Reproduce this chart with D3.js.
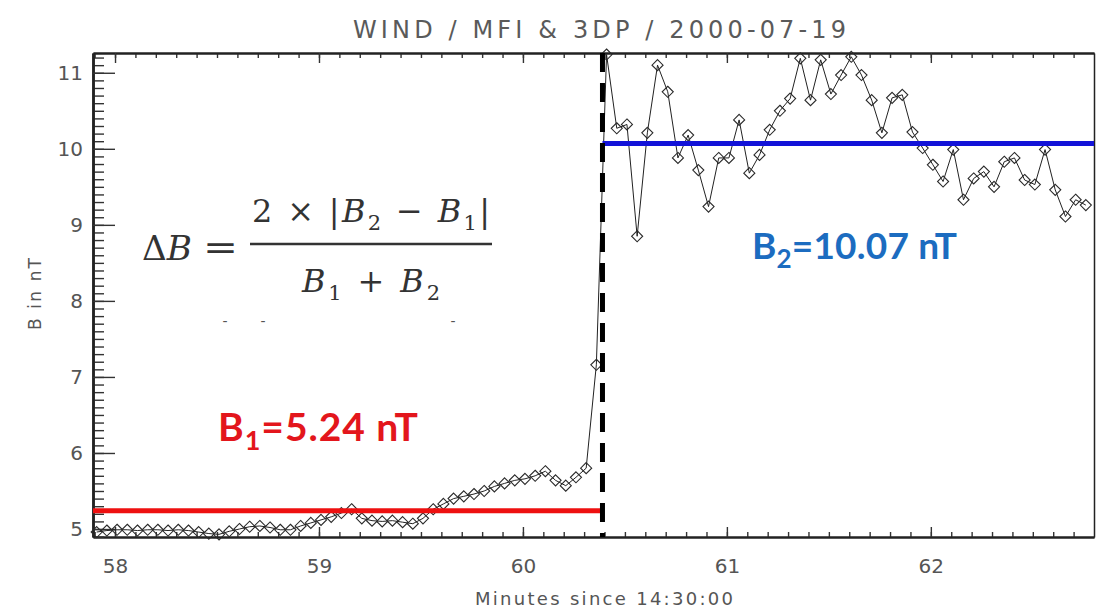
<!DOCTYPE html>
<html>
<head>
<meta charset="utf-8">
<script src="https://cdn.jsdelivr.net/npm/d3@7"></script>
<style>
  html, body { margin: 0; padding: 0; background: #fff; }
  svg { display: block; }
  .axis text { font-family: "DejaVu Sans", sans-serif; fill: #555; }
</style>
</head>
<body>
<svg id="chart" width="1096" height="609"></svg>
<script>
// upstream samples (before the jump), minutes since 14:30:00 and |B| in nT
const upMinutes = [57.91, 57.96, 58.01, 58.06, 58.11, 58.16, 58.21, 58.26, 58.31, 58.36,
  58.41, 58.46, 58.51, 58.56, 58.61, 58.66, 58.71, 58.76, 58.81, 58.86,
  58.91, 58.96, 59.01, 59.06, 59.11, 59.16, 59.21, 59.26, 59.31, 59.36,
  59.41, 59.46, 59.51, 59.56, 59.61, 59.66, 59.71, 59.76, 59.81, 59.86,
  59.91, 59.96, 60.01, 60.06, 60.11, 60.16, 60.21, 60.26, 60.31, 60.36];
const upB = [4.96, 4.98, 4.99, 4.99, 4.98, 4.99, 4.99, 4.98, 4.99, 4.98,
  4.96, 4.94, 4.93, 4.97, 5.00, 5.03, 5.04, 5.02, 4.99, 4.99,
  5.04, 5.08, 5.12, 5.16, 5.21, 5.26, 5.14, 5.11, 5.10, 5.11,
  5.09, 5.07, 5.14, 5.26, 5.33, 5.40, 5.43, 5.46, 5.50, 5.56,
  5.60, 5.64, 5.66, 5.70, 5.76, 5.64, 5.57, 5.68, 5.80, 7.16];

// downstream samples
const downMinutes = [60.41, 60.46, 60.51, 60.56, 60.61, 60.66, 60.71, 60.76, 60.81, 60.86,
  60.91, 60.96, 61.01, 61.06, 61.11, 61.16, 61.21, 61.26, 61.31, 61.36,
  61.41, 61.46, 61.51, 61.56, 61.61, 61.66, 61.71, 61.76, 61.81, 61.86,
  61.91, 61.96, 62.01, 62.06, 62.11, 62.16, 62.21, 62.26, 62.31, 62.36,
  62.41, 62.46, 62.51, 62.56, 62.61, 62.66, 62.71, 62.76];
const downB = [11.24, 10.27, 10.32, 8.85, 10.21, 11.10, 10.75, 9.88, 10.18, 9.72,
  9.24, 9.88, 9.88, 10.38, 9.68, 9.92, 10.25, 10.50, 10.66, 11.19,
  10.64, 11.17, 10.72, 10.97, 11.21, 10.97, 10.64, 10.21, 10.67, 10.71,
  10.22, 10.01, 9.79, 9.57, 9.99, 9.33, 9.61, 9.70, 9.50, 9.83,
  9.88, 9.59, 9.53, 9.99, 9.46, 9.11, 9.33, 9.26];

const b1Level = 5.24;
const b2Level = 10.07;
const shockMinute = 60.39;
const xRange = [57.892, 62.8];
const yRange = [4.895, 11.26];
const xTickValues = [58, 59, 60, 61, 62];
const yTickValues = [5, 6, 7, 8, 9, 10, 11];

const svg = d3.select('#chart');
svg.append('rect').attr('width', 1096).attr('height', 609).attr('fill', '#fff');

const x = d3.scaleLinear().domain(xRange).range([93, 1094]);
const y = d3.scaleLinear().domain(yRange).range([537, 53]);

const xMinor = d3.range(579, 628).map(d => d / 10);
const yMinor = d3.range(49, 113).map(d => d / 10);

// axes, IDL style box with inward ticks
function styleAxis(g, width) {
  g.select('.domain').attr('stroke', '#222').attr('stroke-width', width);
  g.selectAll('.tick line').attr('stroke', '#333').attr('stroke-width', 1.4);
}

svg.append('g').attr('class', 'axis')
  .attr('transform', `translate(0,${y.range()[0]})`)
  .call(d3.axisBottom(x).tickValues(xMinor).tickSize(-5).tickSizeOuter(0).tickFormat(''))
  .call(g => styleAxis(g, 2));
svg.append('g').attr('class', 'axis')
  .attr('transform', `translate(0,${y.range()[0]})`)
  .call(d3.axisBottom(x).tickValues(xTickValues).tickSize(-10).tickSizeOuter(0).tickPadding(22).tickFormat(d3.format('d')))
  .call(g => { styleAxis(g, 2); g.selectAll('text').attr('font-size', 20).attr('fill', '#666'); });

svg.append('g').attr('class', 'axis')
  .attr('transform', `translate(0,${y.range()[1]})`)
  .call(d3.axisTop(x).tickValues(xMinor).tickSize(-5).tickSizeOuter(0).tickFormat(''))
  .call(g => styleAxis(g, 2));
svg.append('g').attr('class', 'axis')
  .attr('transform', `translate(0,${y.range()[1]})`)
  .call(d3.axisTop(x).tickValues(xTickValues).tickSize(-10).tickSizeOuter(0).tickFormat(''))
  .call(g => styleAxis(g, 2));

svg.append('g').attr('class', 'axis')
  .attr('transform', `translate(${x.range()[0]},0)`)
  .call(d3.axisLeft(y).tickValues(yMinor).tickSize(-11).tickSizeOuter(0).tickFormat(''))
  .call(g => styleAxis(g, 2.5));
svg.append('g').attr('class', 'axis')
  .attr('transform', `translate(${x.range()[0]},0)`)
  .call(d3.axisLeft(y).tickValues(yTickValues).tickSize(-22).tickSizeOuter(0).tickPadding(10).tickFormat(d3.format('d')))
  .call(g => { styleAxis(g, 2.5); g.selectAll('text').attr('font-size', 20).attr('fill', '#666'); });

svg.append('g').attr('class', 'axis')
  .attr('transform', `translate(${x.range()[1]},0)`)
  .call(d3.axisRight(y).tickValues([]).tickSizeOuter(0))
  .call(g => styleAxis(g, 1.5));

// titles
svg.append('text').text('WIND / MFI & 3DP / 2000-07-19')
  .attr('x', 353).attr('y', 38)
  .attr('font-family', 'DejaVu Sans').attr('font-size', 24).attr('fill', '#5a5a5a')
  .attr('textLength', 493).attr('lengthAdjust', 'spacing');
svg.append('text').text('Minutes since 14:30:00')
  .attr('x', 475).attr('y', 605)
  .attr('font-family', 'DejaVu Sans').attr('font-size', 18).attr('fill', '#555')
  .attr('textLength', 258).attr('lengthAdjust', 'spacing');
svg.append('text').text('B in nT')
  .attr('transform', 'translate(41,294) rotate(-90)')
  .attr('text-anchor', 'middle')
  .attr('font-family', 'DejaVu Sans').attr('font-size', 17).attr('fill', '#555')
  .attr('textLength', 72).attr('lengthAdjust', 'spacing');

// data
const points = upMinutes.map((t, i) => ({ t, b: upB[i] }))
  .concat(downMinutes.map((t, i) => ({ t, b: downB[i] })));

svg.append('clipPath').attr('id', 'plotClip')
  .append('rect').attr('x', 0).attr('y', 0).attr('width', x.range()[1]).attr('height', 609);

const plot = svg.append('g').attr('clip-path', 'url(#plotClip)');

const line = d3.line().x(d => x(d.t)).y(d => y(d.b));
plot.append('path')
  .datum(points)
  .attr('d', line)
  .attr('fill', 'none')
  .attr('stroke', '#222')
  .attr('stroke-width', 1);

plot.selectAll('.pt')
  .data(points)
  .enter().append('path')
  .attr('class', 'pt')
  .attr('transform', d => `translate(${x(d.t)},${y(d.b)})`)
  .attr('d', d3.symbol(d3.symbolDiamond2, 78))
  .attr('fill', 'none')
  .attr('stroke', '#2a2a2a')
  .attr('stroke-width', 1.1);

// mean levels
plot.append('line')
  .attr('x1', x(xRange[0])).attr('x2', x(shockMinute))
  .attr('y1', y(b1Level)).attr('y2', y(b1Level))
  .attr('stroke', '#ee1010').attr('stroke-width', 5);
plot.append('line')
  .attr('x1', x(shockMinute)).attr('x2', x(xRange[1]))
  .attr('y1', y(b2Level)).attr('y2', y(b2Level))
  .attr('stroke', '#1212d8').attr('stroke-width', 5);

// shock time
svg.append('line')
  .attr('x1', x(shockMinute)).attr('x2', x(shockMinute))
  .attr('y1', y(yRange[1])).attr('y2', y(yRange[0]))
  .attr('stroke', '#000').attr('stroke-width', 5)
  .attr('stroke-dasharray', '19 11');

// annotations
const b1Text = svg.append('text')
  .attr('x', 218).attr('y', 441)
  .attr('font-family', 'Lato, "Open Sans", sans-serif').attr('font-weight', 'bold')
  .attr('font-size', 39).attr('fill', '#e3161c')
  .attr('textLength', 200).attr('lengthAdjust', 'spacing');
b1Text.append('tspan').text('B');
b1Text.append('tspan').text('1').attr('font-size', 27).attr('dy', 9);
b1Text.append('tspan').text('=5.24 nT').attr('dy', -9);

const b2Text = svg.append('text')
  .attr('x', 752).attr('y', 259)
  .attr('font-family', 'Lato, "Open Sans", sans-serif').attr('font-weight', 'bold')
  .attr('font-size', 37).attr('fill', '#1c6cc0')
  .attr('textLength', 205).attr('lengthAdjust', 'spacing');
b2Text.append('tspan').text('B');
b2Text.append('tspan').text('2').attr('font-size', 26).attr('dy', 9);
b2Text.append('tspan').text('=10.07 nT').attr('dy', -9);

// formula
const formulaColor = '#333';
const serif = '"DejaVu Serif", serif';
const delta = svg.append('text')
  .attr('x', 142).attr('y', 260)
  .attr('font-family', serif)
  .attr('font-size', 34).attr('fill', formulaColor)
  .attr('textLength', 50).attr('lengthAdjust', 'spacingAndGlyphs');
delta.append('tspan').text('Δ');
delta.append('tspan').text('B').attr('font-style', 'italic');
svg.append('text').text('=')
  .attr('x', 203).attr('y', 259)
  .attr('font-family', serif).attr('font-size', 34).attr('fill', formulaColor)
  .attr('textLength', 35).attr('lengthAdjust', 'spacingAndGlyphs');
svg.append('line')
  .attr('x1', 250).attr('x2', 492).attr('y1', 244).attr('y2', 244)
  .attr('stroke', formulaColor).attr('stroke-width', 2.6);

const num = svg.append('text')
  .attr('x', 252).attr('y', 222)
  .attr('font-family', serif).attr('font-size', 32).attr('fill', formulaColor)
  .attr('textLength', 238).attr('lengthAdjust', 'spacing');
num.append('tspan').text('2 × |');
num.append('tspan').text('B').attr('font-style', 'italic');
num.append('tspan').text('2').attr('font-size', 21).attr('dy', 8);
num.append('tspan').text(' − ').attr('dy', -8);
num.append('tspan').text('B').attr('font-style', 'italic');
num.append('tspan').text('1').attr('font-size', 21).attr('dy', 8);
num.append('tspan').text('|').attr('dy', -8);

const den = svg.append('text')
  .attr('x', 302).attr('y', 292)
  .attr('font-family', serif).attr('font-size', 32).attr('fill', formulaColor)
  .attr('textLength', 138).attr('lengthAdjust', 'spacing');
den.append('tspan').text('B').attr('font-style', 'italic');
den.append('tspan').text('1').attr('font-size', 21).attr('dy', 8);
den.append('tspan').text(' + ').attr('dy', -8);
den.append('tspan').text('B').attr('font-style', 'italic');
den.append('tspan').text('2').attr('font-size', 21).attr('dy', 8);

[225, 263, 453].forEach(px => {
  svg.append('text').text('-')
    .attr('x', px).attr('y', 326).attr('text-anchor', 'middle')
    .attr('font-family', 'DejaVu Sans').attr('font-size', 14).attr('fill', '#555');
});
</script>
</body>
</html>
